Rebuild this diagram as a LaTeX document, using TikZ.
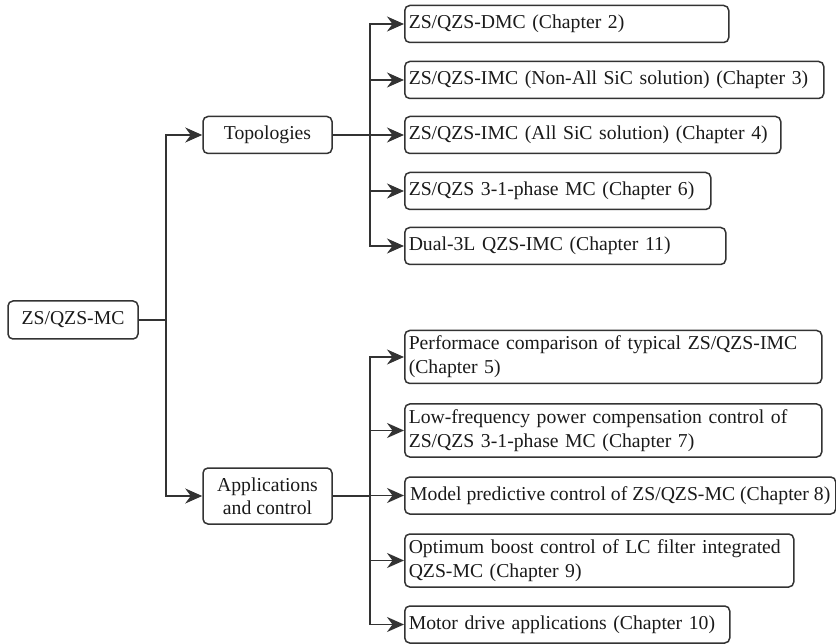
\documentclass[tikz,border=0pt]{standalone}
\usepackage{fontspec}
\setmainfont{Liberation Serif}
\usetikzlibrary{arrows.meta}
\definecolor{linegray}{HTML}{333333}
\definecolor{textblack}{HTML}{1A1A1A}
\tikzset{
  box/.style={draw=linegray, line width=1.5pt, rounded corners=5pt, text=textblack,
    inner sep=0pt, align=center},
  childbox/.style={draw=linegray, line width=1.5pt, rounded corners=5pt, text=textblack,
    anchor=west, inner xsep=4pt, inner ysep=1pt, align=left, minimum height=37pt},
  twoline/.style={minimum height=53pt},
  conn/.style={draw=linegray, line width=1.6pt},
  arr/.style={conn, arrows={-Stealth[length=17pt,width=15pt,inset=5.5pt]}}
}
\begin{document}
\begin{tikzpicture}[x=1pt,y=-1pt, font=\fontsize{19.7}{24}\selectfont]
\useasboundingbox (0,0) rectangle (836,644);

% root and second level
\node[box, minimum width=130pt, minimum height=38pt] (root) at (73,320) {ZS/QZS-MC};
\node[box, minimum width=129pt, minimum height=37pt] (topo) at (267.5,135) {Topologies};
\node[box, minimum width=129pt, minimum height=56pt] (app) at (267.5,496) {Applications\\[-1pt]and control};

% topology children
\node[childbox, text width=316pt] (t1) at (404,24) {ZS/QZS-DMC (Chapter 2)};
\node[childbox, text width=411pt] (t2) at (404,80) {ZS/QZS-IMC (Non-All SiC solution) (Chapter 3)};
\node[childbox, text width=368pt] (t3) at (404,135) {ZS/QZS-IMC (All SiC solution) (Chapter 4)};
\node[childbox, text width=298pt] (t4) at (404,191) {ZS/QZS 3-1-phase MC (Chapter 6)};
\node[childbox, text width=313pt] (t5) at (404,246) {Dual-3L QZS-IMC (Chapter 11)};

% application children
\node[childbox, twoline, text width=409pt] (a1) at (404,357) {Performace comparison of typical ZS/QZS-IMC\\(Chapter 5)};
\node[childbox, twoline, text width=409pt] (a2) at (404,430.5) {Low-frequency power compensation control of\\ZS/QZS 3-1-phase MC (Chapter 7)};
\node[childbox, inner xsep=2pt, align=center, minimum width=431pt] (a3) at (404,495.5) {Model predictive control of ZS/QZS-MC (Chapter~8)};
\node[childbox, twoline, text width=381pt] (a4) at (404,560.5) {Optimum boost control of LC filter integrated\\QZS-MC (Chapter 9)};
\node[childbox, text width=317pt] (a5) at (404,624.5) {Motor drive applications (Chapter 10)};

% connectors
\draw[arr] (root.east) -- ++(27,0) |- (topo.west);
\draw[arr] (root.east) -- ++(27,0) |- (app.west);

\foreach \c in {t1,t2,t3,t4,t5}
  \draw[arr] (topo.east) -- ++(37,0) |- (\c.west);
\foreach \c in {a1,a2,a3,a4,a5}
  \draw[arr] (app.east) -- ++(37,0) |- (\c.west);
\end{tikzpicture}
\end{document}
